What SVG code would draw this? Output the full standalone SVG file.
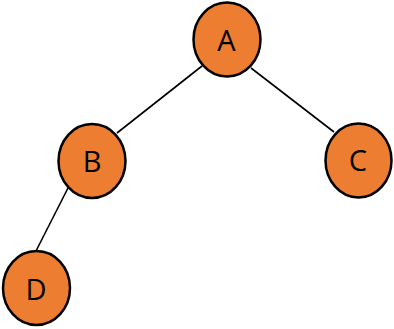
<svg xmlns="http://www.w3.org/2000/svg" width="394" height="329" viewBox="0 0 394 329">
<style>
.n{fill:#ED7D31;stroke:#000;stroke-width:2.5}
.t{font-family:"Open Sans","Noto Sans",sans-serif;font-size:29px;fill:#000;text-anchor:middle}
.e{stroke:#000;stroke-width:1.6;fill:none}
</style>
<rect width="394" height="329" fill="#fff"/>
<g id="edges">
<line class="e" x1="202" y1="66" x2="117" y2="133"/>
<line class="e" x1="251" y1="68" x2="334" y2="132"/>
<line class="e" x1="68" y1="188" x2="36" y2="251"/>
</g>
<g id="A"><ellipse class="n" cx="227" cy="39.5" rx="33.5" ry="37"/><text class="t" x="226.5" y="51">A</text></g>
<g id="B"><ellipse class="n" cx="92" cy="161" rx="33.5" ry="37"/><text class="t" x="92" y="172">B</text></g>
<g id="C"><ellipse class="n" cx="358.5" cy="160.5" rx="33" ry="37"/><text class="t" x="358" y="171">C</text></g>
<g id="D"><ellipse class="n" cx="36.5" cy="288" rx="33.5" ry="37"/><text class="t" x="36" y="299.5">D</text></g>
</svg>
